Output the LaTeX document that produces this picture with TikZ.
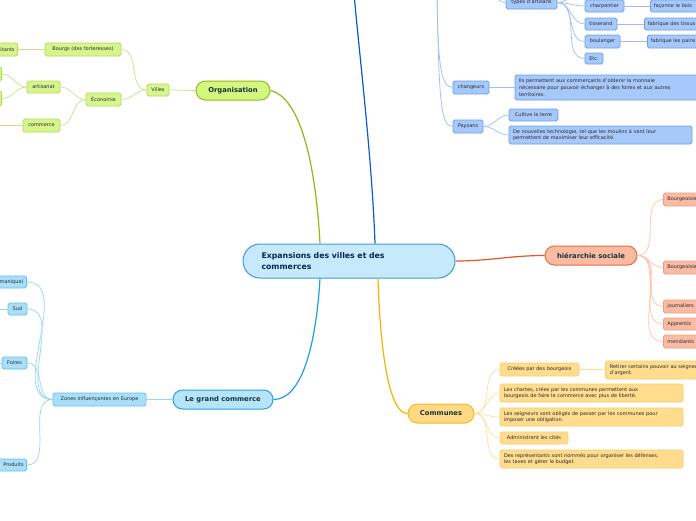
\documentclass[tikz,border=0pt]{standalone}
\usepackage{fontspec}
\setmainfont{DejaVu Sans}
\usetikzlibrary{calc}
\definecolor{gMain}{HTML}{D4F57E}\definecolor{gMainB}{HTML}{8EBE1E}\definecolor{gLine}{HTML}{8CBB15}
\definecolor{gSub}{HTML}{D6F58E}\definecolor{gSubB}{HTML}{B4DC50}\definecolor{gSubL}{HTML}{C6E38A}
\definecolor{bSub}{HTML}{A7C8FA}\definecolor{bSubB}{HTML}{6B9FEA}\definecolor{bSubL}{HTML}{9DBFF2}\definecolor{bDark}{HTML}{0B5CCB}
\definecolor{sMain}{HTML}{FBBAA2}\definecolor{sMainB}{HTML}{EF6A3C}\definecolor{sLine}{HTML}{E9542A}
\definecolor{sSub}{HTML}{F9BBA4}\definecolor{sSubB}{HTML}{F29C7C}\definecolor{sSubL}{HTML}{FBC3AC}
\definecolor{yMain}{HTML}{FFD983}\definecolor{yMainB}{HTML}{F4B92A}\definecolor{yLine}{HTML}{F6B300}
\definecolor{ySub}{HTML}{FFDC8E}\definecolor{ySubB}{HTML}{F8CE6A}\definecolor{ySubL}{HTML}{FFDF96}
\definecolor{lMain}{HTML}{B6E4FB}\definecolor{lMainB}{HTML}{22A3E0}\definecolor{lLine}{HTML}{1DA0E0}
\definecolor{lSub}{HTML}{A9DFF9}\definecolor{lSubB}{HTML}{62C2EE}\definecolor{lSubL}{HTML}{95D6F4}
\definecolor{cFill}{HTML}{C6EAFC}\definecolor{cB}{HTML}{3F9BD6}\definecolor{cText}{HTML}{0B2550}
\definecolor{mText}{HTML}{15333A}\definecolor{sText}{HTML}{2A2A2A}
\begin{document}
\begin{tikzpicture}[x=1pt,y=-1pt,
  mainnode/.style={rectangle, rounded corners=9.5pt, minimum height=19pt, line width=1pt,
    font=\fontsize{6.8}{8}\selectfont\bfseries, text=mText, inner sep=0pt},
  sm/.style={rectangle, rounded corners=1.8pt, line width=0.8pt,
    font=\fontsize{5}{6.7}\selectfont, text=sText, inner xsep=1.5pt, inner ysep=1pt, align=center},
  gs/.style={sm, fill=gSub, draw=gSubB},
  bs/.style={sm, fill=bSub, draw=bSubB},
  ss/.style={sm, fill=sSub, draw=sSubB},
  ys/.style={sm, fill=ySub, draw=ySubB},
  ls/.style={sm, fill=lSub, draw=lSubB},
  gl/.style={draw=gSubL, line width=0.7pt},
  bl/.style={draw=bSubL, line width=0.7pt},
  sl/.style={draw=sSubL, line width=0.7pt},
  yl/.style={draw=ySubL, line width=0.7pt},
  ll/.style={draw=lSubL, line width=0.7pt},
  ml/.style={line width=1.2pt}
]
\useasboundingbox (0,0) rectangle (696,520);
\fill[white] (0,0) rectangle (696,520);
\clip (0,0) rectangle (696,520);

% central
\node[rectangle, rounded corners=17pt, fill=cFill, draw=cB, line width=1pt,
  minimum width=212pt, minimum height=34pt, text width=175pt, inner xsep=18.5pt, inner ysep=0pt,
  align=left, font=\fontsize{7.8}{10.5}\selectfont\bfseries, text=cText] (C) at (349,261)
  {Expansions des villes et des\\commerces};

% main branches
\node[mainnode, fill=gMain, draw=gMainB, minimum width=74pt] (org) at (233,90.5) {Organisation};
\node[mainnode, fill=sMain, draw=sMainB, minimum width=92pt] (hs) at (591,255.5) {hiérarchie sociale};
\node[mainnode, fill=yMain, draw=yMainB, minimum width=66pt] (com) at (441,413.5) {Communes};
\node[mainnode, fill=lMain, draw=lMainB, minimum width=100pt] (lgc) at (223,399.5) {Le grand commerce};

\coordinate (topdark) at (354,-6);
\coordinate (topblue) at (437,-6);
\coordinate (topart) at (495,-6);

\draw[ml, draw=gLine] ([xshift=-29pt]C.north) .. controls (316,170) and (302,98) .. (org.east);
\draw[ml, draw=bDark] ([xshift=26pt]C.north) .. controls (372,160) and (360,60) .. (topdark);
\draw[ml, draw=sLine] (C.east) .. controls (490,261) and (510,255.5) .. (hs.west);
\draw[ml, draw=yLine] ([xshift=29pt]C.south) .. controls (380,345) and (388,413.5) .. (com.west);
\draw[ml, draw=lLine] ([xshift=-29pt]C.south) .. controls (316,345) and (302,399.5) .. (lgc.east);

% Organisation subtree
\node[gs, minimum width=22pt, minimum height=12pt] (villes) at (158,90) {Villes};
\node[gs, minimum width=76pt, minimum height=13pt] (bourgs) at (83,49.5) {Bourgs (des forteresses)};
\node[gs, anchor=east, text width=30pt, align=right, minimum height=13pt, inner xsep=3pt] (hab) at (18,49.5) {Habitants};
\node[gs, minimum width=35pt, minimum height=13pt] (eco) at (103.5,99.5) {Économie};
\node[gs, minimum width=33pt, minimum height=12pt] (art) at (43.5,87) {artisanat};
\node[gs, minimum width=37pt, minimum height=13pt] (comm) at (41.5,125.5) {commerce};
\node[gs, anchor=east, minimum width=30pt, minimum height=14pt] (art1) at (2,74) {};
\node[gs, anchor=east, minimum width=30pt, minimum height=15pt] (art2) at (2,98.5) {};
\coordinate (commL) at (-12,125.5);

\draw[gl] (org.west) to[out=180,in=0] (villes.east);
\draw[gl] (villes.west) to[out=180,in=0] (bourgs.east);
\draw[gl] (villes.west) to[out=180,in=0] (eco.east);
\draw[gl] (bourgs.west) to[out=180,in=0] (hab.east);
\draw[gl] (eco.west) to[out=180,in=0] (art.east);
\draw[gl] (eco.west) to[out=180,in=0] (comm.east);
\draw[gl] (art.west) to[out=180,in=0] (art1.east);
\draw[gl] (art.west) to[out=180,in=0] (art2.east);
\draw[gl] (comm.west) -- (commL);

% top blue subtree
\node[bs, minimum width=51pt, minimum height=13pt] (types) at (531.5,2.5) {types d'artisans};
\node[bs, minimum width=39pt, minimum height=12pt] (charp) at (604.5,6) {charpentier};
\node[bs, anchor=west, text width=56pt, inner xsep=3.5pt, align=left, minimum height=12pt] (bois) at (650,6) {façonne le bois};
\node[bs, minimum width=32pt, minimum height=12pt] (tiss) at (601,24) {tisserand};
\node[bs, anchor=west, text width=56pt, inner xsep=3.5pt, align=left, minimum height=12pt] (tissus) at (644,24) {fabrique des tissus};
\node[bs, minimum width=35pt, minimum height=13pt] (boul) at (602.5,41.5) {boulanger};
\node[bs, anchor=west, text width=56pt, inner xsep=3.5pt, align=left, minimum height=13pt] (pains) at (647,41.5) {fabrique les pains};
\node[bs, minimum width=18pt, minimum height=11pt] (etc) at (594,58.5) {Etc.};
\node[bs, minimum width=36pt, minimum height=13pt] (chg) at (471,87.5) {changeurs};
\node[bs, text width=175pt, inner xsep=4pt, align=left, minimum height=25pt] (chgd) at (606.5,87.5)
  {Ils permettent aux commerçants d'obtenir la monnaie\\nécessaire pour pouvoir échanger à des foires et aux autres\\territoires.};
\node[bs, minimum width=30pt, minimum height=13pt] (pays) at (468,126.5) {Paysans};
\node[bs, minimum width=49pt, minimum height=12pt] (terre) at (533.5,115) {Cultive la terre};
\node[bs, text width=175pt, inner xsep=4pt, align=left, minimum height=18pt] (moul) at (600.5,135)
  {De nouvelles technologie, tel que les moulins à vent leur\\permettent de maximiser leur efficacité.};
\coordinate (typesUp) at (585,-10);

\draw[bl] (topblue) .. controls (438,60) and (440,87.5) .. (chg.west);
\draw[bl] (topblue) .. controls (439,95) and (440,126.5) .. (pays.west);
\draw[bl] (topart) .. controls (499,0) and (500,2.5) .. (types.west);
\draw[bl] (types.east) to[out=0,in=180] (typesUp);
\draw[bl] (types.east) to[out=0,in=180] (charp.west);
\draw[bl] (types.east) to[out=0,in=180] (tiss.west);
\draw[bl] (types.east) to[out=0,in=180] (boul.west);
\draw[bl] (types.east) to[out=0,in=180] (etc.west);
\draw[bl] (charp.east) -- (bois.west);
\draw[bl] (tiss.east) -- (tissus.west);
\draw[bl] (boul.east) -- (pains.west);
\draw[bl] (chg.east) -- (chgd.west);
\draw[bl] (pays.east) to[out=0,in=180] (terre.west);
\draw[bl] (pays.east) to[out=0,in=180] (moul.west);

% hierarchie sociale subtree
\node[ss, anchor=west, text width=52pt, inner xsep=4pt, align=left, minimum height=13pt] (hb1) at (663,199.5) {Bourgeoisie};
\node[ss, anchor=west, text width=52pt, inner xsep=4pt, align=left, minimum height=13pt] (hb2) at (663,267.5) {Bourgeoisie};
\node[ss, anchor=west, text width=52pt, inner xsep=4pt, align=left, minimum height=13pt] (hj) at (663,306.5) {journaliers};
\node[ss, anchor=west, text width=52pt, inner xsep=4pt, align=left, minimum height=12pt] (ha) at (663,324) {Apprentis};
\node[ss, anchor=west, text width=52pt, inner xsep=4pt, align=left, minimum height=13pt] (hm) at (663,341.5) {mendiants};
\foreach \n in {hb1,hb2,hj,ha,hm} \draw[sl] (hs.east) to[out=0,in=180] (\n.west);

% Communes subtree
\node[ys, minimum width=79pt, minimum height=13pt] (c1) at (539.5,369.5) {Créées par des bourgeois};
\node[ys, anchor=west, text width=120pt, inner xsep=4.5pt, align=left, minimum height=18pt] (c1a) at (605,370)
  {Retirer certains pouvoir au seigneur\\d'argent.};
\node[ys, text width=175pt, inner xsep=4pt, align=left, minimum height=18pt] (c2) at (591.5,393)
  {Les chartes, crées par les communes permettent aux\\bourgeois de faire le commerce avec plus de liberté.};
\node[ys, text width=175pt, inner xsep=4pt, align=left, minimum height=18pt] (c3) at (591.5,417)
  {Les seigneurs sont obligés de passer par les communes pour\\imposer une obligation.};
\node[ys, minimum width=68pt, minimum height=12pt] (c4) at (534,438) {Administrent les cités};
\node[ys, text width=175pt, inner xsep=4pt, align=left, minimum height=18pt] (c5) at (591.5,459)
  {Des représentants sont nommés pour organiser les défenses,\\les taxes et gérer le budget.};
\foreach \n in {c1,c2,c3,c4,c5} \draw[yl] (com.east) to[out=0,in=180] (\n.west);
\draw[yl] (c1.east) -- (c1.east -| c1a.west);

% Le grand commerce subtree
\node[ls, minimum width=93pt, minimum height=13pt] (zones) at (99.5,399.5) {Zones influençantes en Europe};
\node[ls, anchor=east, text width=52pt, inner xsep=3pt, align=right, minimum height=12pt] (nord) at (27,282) {Nord (Germanique)};
\node[ls, minimum width=19pt, minimum height=12pt] (sud) at (17.5,309) {Sud};
\node[ls, minimum width=25pt, minimum height=12pt] (foires) at (14.5,363) {Foires};
\node[ls, anchor=east, text width=40pt, inner xsep=3pt, align=right, minimum height=12pt] (prod) at (27,465) {Produits};
\coordinate (sudL) at (-10,309);
\coordinate (foiresL) at (-10,363);
\foreach \n in {nord,sud,foires,prod} \draw[ll] (zones.west) to[out=180,in=0] (\n.east);
\draw[ll] (lgc.west) -- (zones.east);
\draw[ll] (sud.west) -- (sudL);
\draw[ll] (foires.west) -- (foiresL);
\end{tikzpicture}
\end{document}
